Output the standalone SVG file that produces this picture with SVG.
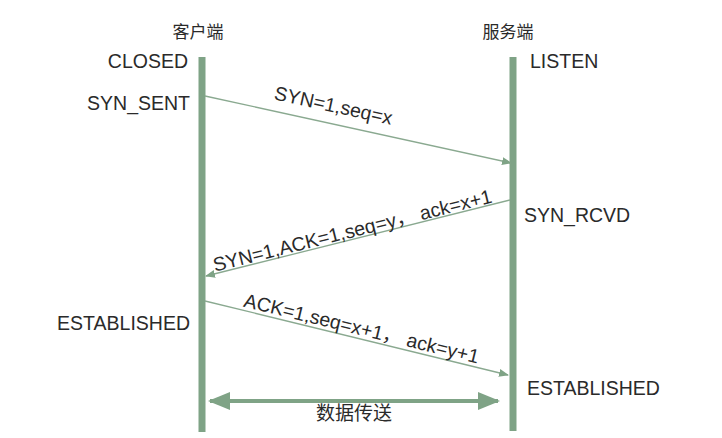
<svg xmlns="http://www.w3.org/2000/svg" width="722" height="438" viewBox="0 0 722 438">
<style>
text{font-family:"Liberation Sans","Noto Sans CJK SC",sans-serif;font-size:19.5px;fill:#2a2a2a}
.cn{font-size:17px}
.bar{fill:#7fa386}
.msg{stroke:#8aa990;stroke-width:1.3;fill:none}
</style>
<defs>
<marker id="ah" markerWidth="10" markerHeight="10" refX="9" refY="5" orient="auto" markerUnits="userSpaceOnUse"><path d="M0,1 L10,5 L0,9 Z" fill="#7fa386"/></marker>
<marker id="big" markerWidth="22" markerHeight="18" refX="20" refY="9" orient="auto-start-reverse" markerUnits="userSpaceOnUse"><path d="M0,0 L22,9 L0,18 Z" fill="#7fa386"/></marker>
</defs>
<rect width="722" height="438" fill="#fff"/>
<g id="client"><rect class="bar" x="198.5" y="57" width="7" height="375"/><text class="cn" x="198" y="38" text-anchor="middle">客户端</text></g>
<g id="server"><rect class="bar" x="509.5" y="57" width="7" height="374"/><text class="cn" x="508" y="38" text-anchor="middle">服务端</text></g>
<g id="states">
<text x="188" y="68" text-anchor="end">CLOSED</text>
<text x="190" y="110" text-anchor="end">SYN_SENT</text>
<text x="190" y="330" text-anchor="end">ESTABLISHED</text>
<text x="530" y="68">LISTEN</text>
<text x="524" y="222">SYN_RCVD</text>
<text x="527" y="395">ESTABLISHED</text>
</g>
<g id="connectors">
<line class="msg" x1="205" y1="96" x2="511" y2="163" marker-end="url(#ah)"/>
<line class="msg" x1="510" y1="200" x2="206" y2="276" marker-end="url(#ah)"/>
<line class="msg" x1="205" y1="301" x2="508" y2="375" marker-end="url(#ah)"/>
<line x1="210" y1="401" x2="498" y2="401" stroke="#7fa386" stroke-width="4" marker-start="url(#big)" marker-end="url(#big)"/>
</g>
<g id="labels">
<text transform="translate(332,112) rotate(12.3)" text-anchor="middle">SYN=1,seq=x</text>
<text transform="translate(354,237) rotate(-14)" text-anchor="middle">SYN=1,ACK=1,seq=y， ack=x+1</text>
<text transform="translate(360,335) rotate(13.7)" text-anchor="middle">ACK=1,seq=x+1， ack=y+1</text>
<text class="cn" x="354" y="420" text-anchor="middle" style="font-size:19px">数据传送</text>
</g>
</svg>
